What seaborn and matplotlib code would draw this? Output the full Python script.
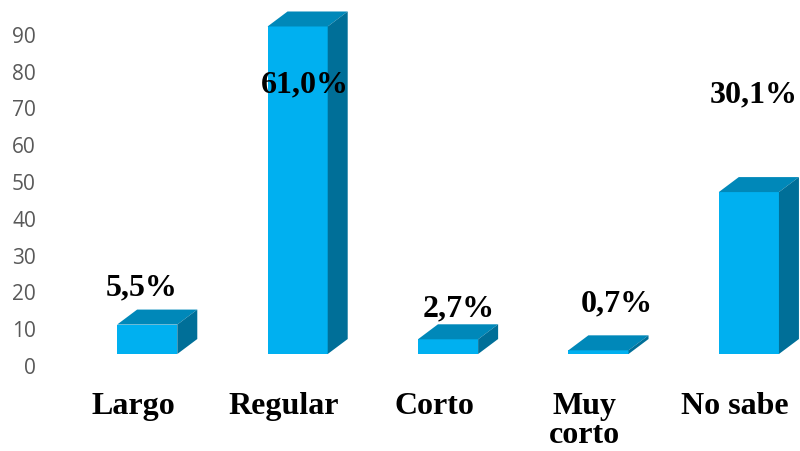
import matplotlib
matplotlib.use("Agg")
import matplotlib.pyplot as plt
import matplotlib.transforms as mtransforms
from matplotlib.patches import Polygon
import seaborn as sns
import pandas as pd

# Survey responses (counts) per category
categories = ["Largo", "Regular", "Corto", "Muy\ncorto", "No sabe"]
counts = [8, 89, 4, 1, 44]
yticks = [0, 10, 20, 30, 40, 50, 60, 70, 80, 90]

# Percentage label placement (x offset from bar centre, y in data units)
label_dx = [-0.04, 0.05, 0.07, 0.12, 0.03]
label_y = [18.2, 73.4, 12.5, 13.9, 70.7]

FRONT = "#00B0F0"
TOP = "#0088B9"
SIDE = "#006F98"

sns.set_style("white")
plt.rcParams["font.family"] = ["DejaVu Sans"]

fig = plt.figure(figsize=(8.0, 4.52), dpi=100)
ax = fig.add_axes([72 / 800, (452 - 380) / 452, (800 - 72) / 800, 380 / 452])

df = pd.DataFrame({"cat": categories, "n": counts})
sns.barplot(data=df, x="cat", y="n", width=0.4, color=FRONT, saturation=1,
            linewidth=0, ax=ax, zorder=2)

ax.set_xlim(-0.5, 4.34)
ax.set_ylim(-6.79, 96.47)

# depth of the 3D effect, in pixels converted to data units
p0 = ax.transData.transform((0, 0))
p1 = ax.transData.transform((1, 1))
px_x = p1[0] - p0[0]
px_y = p1[1] - p0[1]
dx = 20 / px_x
dy = 15 / px_y

for bar in list(ax.patches):
    x0 = bar.get_x()
    w = bar.get_width()
    h = bar.get_height()
    top = Polygon([(x0, h), (x0 + w, h), (x0 + w + dx, h + dy), (x0 + dx, h + dy)],
                  closed=True, facecolor=TOP, edgecolor="none", zorder=3, clip_on=False)
    side = Polygon([(x0 + w, 0), (x0 + w + dx, dy), (x0 + w + dx, h + dy), (x0 + w, h)],
                   closed=True, facecolor=SIDE, edgecolor="none", zorder=3, clip_on=False)
    ax.add_patch(top)
    ax.add_patch(side)

# percentage labels derived from counts
total = sum(counts)
for i, n in enumerate(counts):
    pct = f"{n / total * 100:.1f}%".replace(".", ",")
    ax.text(i + label_dx[i], label_y[i], pct, ha="center", va="center",
            fontsize=23, fontweight="bold", family="Liberation Serif",
            color="black", zorder=5)

for s in ax.spines.values():
    s.set_visible(False)
ax.grid(False)
ax.set_xlabel("")
ax.set_ylabel("")

ax.set_yticks(yticks)
ax.set_yticklabels([str(t) for t in yticks], fontsize=15, color="#595959",
                   family="Open Sans")
ax.tick_params(axis="y", length=0, pad=26)
ax.set_xticks(range(len(categories)))
ax.set_xticklabels(categories, fontsize=23, fontweight="bold",
                   family="Liberation Serif", color="black", linespacing=1.0)
ax.tick_params(axis="x", length=0, pad=9)

y_off = mtransforms.ScaledTranslation(0, -11 / 100, fig.dpi_scale_trans)
for lab in ax.get_yticklabels():
    lab.set_transform(lab.get_transform() + y_off)
x_off = mtransforms.ScaledTranslation(-14 / 100, 0, fig.dpi_scale_trans)
for lab in ax.get_xticklabels():
    lab.set_transform(lab.get_transform() + x_off)

fig.savefig("out.png", dpi=100, facecolor="white")
